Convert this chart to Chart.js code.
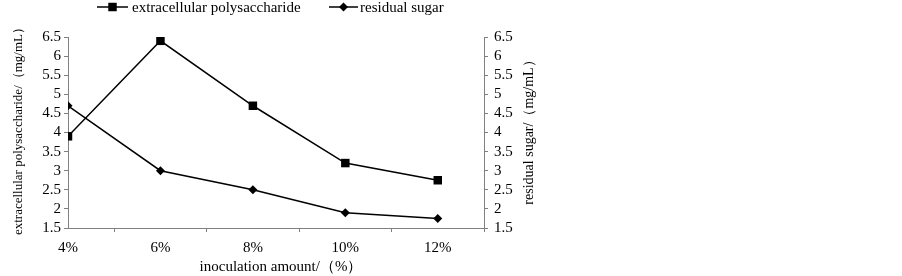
<!DOCTYPE html>
<html>
<head>
<meta charset="utf-8">
<script src="https://cdn.jsdelivr.net/npm/chart.js@4"></script>
<style>
html,body{margin:0;padding:0;background:#fff;}
#wrap{position:relative;width:902px;height:276px;}
</style>
</head>
<body>
<div id="wrap"><canvas id="c" width="902" height="276"></canvas></div>
<script>
const categories = ['4%', '6%', '8%', '10%', '12%'];
const polysaccharide = [3.9, 6.4, 4.7, 3.2, 2.75];
const residualSugar = [4.7, 3.0, 2.5, 1.9, 1.75];
const yTicks = [1.5, 2, 2.5, 3, 3.5, 4, 4.5, 5, 5.5, 6, 6.5];
const seriesNames = ['extracellular polysaccharide', 'residual sugar'];
const xTitle = 'inoculation amount/（%）';
const yTitle = 'extracellular polysaccharide/（mg/mL）';
const y2Title = 'residual sugar/（mg/mL）';

const FONT = '"Liberation Serif", "Times New Roman", serif';
const FS = 15;
const AXIS = '#808080';

const toPts = arr => arr.map((v, i) => ({x: i, y: v}));

const decor = {
  id: 'decor',
  afterDraw(chart) {
    const ctx = chart.ctx;
    ctx.save();
    ctx.fillStyle = '#000';
    ctx.textBaseline = 'middle';
    // x title
    ctx.font = FS + 'px ' + FONT;
    ctx.textAlign = 'center';
    ctx.fillText(xTitle, 281, 267);
    // left title
    ctx.save();
    ctx.font = '13px ' + FONT;
    ctx.translate(19, 128);
    ctx.rotate(-Math.PI / 2);
    ctx.fillText(yTitle, 0, 0);
    ctx.restore();
    // right title
    ctx.save();
    ctx.font = '14px ' + FONT;
    ctx.translate(529, 129);
    ctx.rotate(-Math.PI / 2);
    ctx.fillText(y2Title, 0, 0);
    ctx.restore();
    // legend
    ctx.font = FS + 'px ' + FONT;
    const items = [
      {x0: 97, x1: 128, style: 'rect', r: 6, tx: 132},
      {x0: 329, x1: 358, style: 'rectRot', r: 4.5, tx: 360}
    ];
    const ly = 7;
    items.forEach((it, i) => {
      ctx.strokeStyle = '#000';
      ctx.lineWidth = 1.5;
      ctx.beginPath();
      ctx.moveTo(it.x0, ly);
      ctx.lineTo(it.x1, ly);
      ctx.stroke();
      ctx.fillStyle = '#000';
      Chart.helpers.drawPoint(ctx, {pointStyle: it.style, radius: it.r, borderWidth: 0}, (it.x0 + it.x1) / 2, ly);
      ctx.fillStyle = '#000';
      ctx.textAlign = 'left';
      ctx.fillText(seriesNames[i], it.tx, ly + 1);
    });
    ctx.restore();
  }
};

const yLabel = v => String(Number(v));

new Chart(document.getElementById('c'), {
  type: 'line',
  data: {
    datasets: [
      {
        label: seriesNames[0],
        data: toPts(polysaccharide),
        yAxisID: 'y',
        borderColor: '#000',
        backgroundColor: '#000',
        borderWidth: 1.5,
        pointStyle: 'rect',
        pointRadius: 6,
        pointBorderWidth: 0,
        tension: 0
      },
      {
        label: seriesNames[1],
        data: toPts(residualSugar),
        yAxisID: 'y2',
        borderColor: '#000',
        backgroundColor: '#000',
        borderWidth: 1.5,
        pointStyle: 'rectRot',
        pointRadius: 4.5,
        pointBorderWidth: 0,
        tension: 0
      }
    ]
  },
  options: {
    responsive: false,
    animation: false,
    events: [],
    layout: {padding: {top: 37, left: 0, right: 0, bottom: 0}},
    plugins: {legend: {display: false}, tooltip: {enabled: false}},
    scales: {
      x: {
        type: 'linear',
        min: 0,
        max: 4.5,
        afterBuildTicks(scale) {
          const t = [];
          for (let v = 0; v <= 4.5; v += 0.5) t.push({value: v});
          scale.ticks = t;
        },
        afterFit(scale) { scale.height = 48; },
        border: {color: AXIS, width: 1},
        grid: {
          display: true,
          drawOnChartArea: false,
          tickLength: 4,
          tickColor: ctx => (ctx.tick && ctx.tick.value % 1 === 0.5) ? AXIS : 'rgba(0,0,0,0)'
        },
        ticks: {
          autoSkip: false,
          maxRotation: 0,
          padding: 7,
          color: '#000',
          font: {family: FONT, size: FS},
          callback: v => (v % 1 === 0 ? categories[v] : '')
        }
      },
      y: {
        position: 'left',
        min: 1.5,
        max: 6.5,
        afterBuildTicks(scale) { scale.ticks = yTicks.map(v => ({value: v})); },
        afterFit(scale) { scale.width = 68; },
        border: {color: AXIS, width: 1},
        grid: {display: true, drawOnChartArea: false, tickLength: 4, tickColor: AXIS},
        ticks: {autoSkip: false, padding: 3, color: '#000', font: {family: FONT, size: FS}, callback: yLabel}
      },
      y2: {
        position: 'right',
        min: 1.5,
        max: 6.5,
        afterBuildTicks(scale) { scale.ticks = yTicks.map(v => ({value: v})); },
        afterFit(scale) { scale.width = 418; },
        border: {color: AXIS, width: 1},
        grid: {display: true, drawOnChartArea: false, tickLength: 4, tickColor: AXIS},
        ticks: {autoSkip: false, padding: 6, color: '#000', font: {family: FONT, size: FS}, callback: yLabel}
      }
    }
  },
  plugins: [decor]
});
</script>
</body>
</html>
